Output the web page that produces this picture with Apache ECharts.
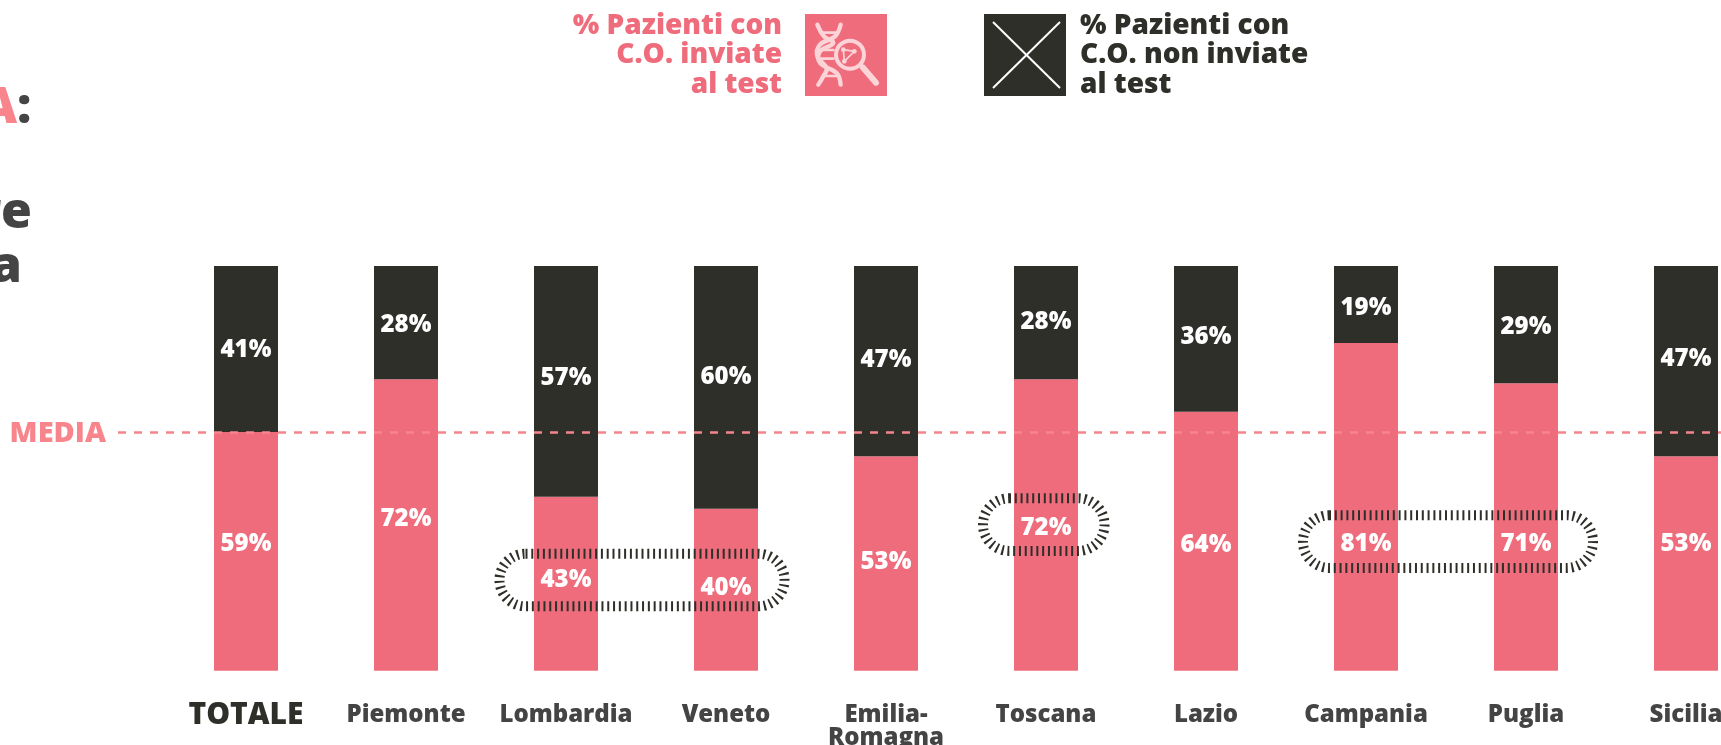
<!DOCTYPE html>
<html>
<head>
<meta charset="utf-8">
<title>Pazienti con C.O. inviate al test</title>
<script src="https://cdn.jsdelivr.net/npm/echarts@6/dist/echarts.min.js"></script>
<style>
  html, body { margin: 0; padding: 0; background: #fff; overflow: hidden; }
  #chart { width: 1721px; height: 745px; }
</style>
</head>
<body>
<div id="chart"></div>
<script>
const regions = ['TOTALE', 'Piemonte', 'Lombardia', 'Veneto', 'Emilia-\nRomagna', 'Toscana', 'Lazio', 'Campania', 'Puglia', 'Sicilia'];
const inviate = [59, 72, 43, 40, 53, 72, 64, 81, 71, 53];
const nonInviate = [41, 28, 57, 60, 47, 28, 36, 19, 29, 47];
const media = 59;

// where each percentage sits on the bar, in axis units (not centred in the original)
const inviateLabelAt = [31.8, 38, 22.9, 21, 27.3, 35.7, 31.5, 31.8, 31.8, 31.8];
const nonInviateLabelAt = [79.7, 85.9, 72.8, 73, 77.2, 86.5, 82.9, 90, 85.4, 77.5];

// dashed highlight pills: first/last region, height on the axis
const highlights = [
  { from: 'Lombardia', to: 'Veneto', at: 22.4, padL: 71.5, padR: 63.5 },
  { from: 'Toscana', to: 'Toscana', at: 36.1, padL: 68, padR: 63.5 },
  { from: 'Campania', to: 'Puglia', at: 31.9, padL: 68, padR: 72 },
];

const PINK = '#ef6c7c';
const SOFT_PINK = '#f8848c';
const DARK = '#2f2f2a';
const GREY = '#444444';
const ICON = '#fcd3d7';
const FONT = '"Open Sans", Lato, sans-serif';

const chart = echarts.init(document.getElementById('chart'));

function labelSeries(at, values) {
  return {
    type: 'scatter',
    symbolSize: 1,
    itemStyle: { color: 'transparent', opacity: 1 },
    silent: true,
    z: 6,
    data: at.map((y, i) => ({
      value: [regions[i], y],
      label: {
        show: true,
        position: 'inside',
        offset: [0, 2],
        formatter: values[i] + '%',
        color: '#fff',
        fontFamily: FONT,
        fontWeight: 800,
        fontSize: 24,
      },
    })),
  };
}

const inviateLabels = labelSeries(inviateLabelAt, inviate);
// the media line runs over the bars, so it hangs on a series drawn above them
inviateLabels.markLine = {
  silent: true,
  symbol: 'none',
  z: 7,
  lineStyle: { color: SOFT_PINK, type: [8, 8], width: 2.5, opacity: 1 },
  label: {
    show: true,
    position: 'start',
    formatter: 'MEDIA',
    distance: 12,
    offset: [0, 2],
    color: SOFT_PINK,
    fontFamily: FONT,
    fontWeight: 800,
    fontSize: 29,
  },
  data: [[{ x: 118, yAxis: media }, { x: 1721, yAxis: media }]],
};

chart.setOption({
  animation: false,
  backgroundColor: '#fff',
  grid: { left: 166, top: 266, width: 1600, height: 404.7, outerBoundsMode: 'none' },
  xAxis: {
    type: 'category',
    data: regions,
    axisLine: { show: false },
    axisTick: { show: false },
    axisLabel: {
      interval: 0,
      margin: 33,
      color: GREY,
      fontFamily: FONT,
      fontWeight: 800,
      fontSize: 24,
      lineHeight: 23,
      formatter: (v) => (v === 'TOTALE' ? '{tot|' + v + '}' : v),
      rich: {
        tot: { color: DARK, fontFamily: FONT, fontWeight: 800, fontSize: 30 },
      },
    },
  },
  yAxis: { type: 'value', min: 0, max: 100, show: false },
  series: [
    {
      name: '% Pazienti con C.O. inviate al test',
      type: 'bar',
      stack: 'tot',
      barWidth: 64,
      data: inviate,
      itemStyle: { color: PINK },
    },
    {
      name: '% Pazienti con C.O. non inviate al test',
      type: 'bar',
      stack: 'tot',
      barWidth: 64,
      data: nonInviate,
      itemStyle: { color: DARK },
    },
    inviateLabels,
    labelSeries(nonInviateLabelAt, nonInviate),
  ],
});

// legend and cropped headline are free-standing in the original, so graphic elements
function legendText(x, y, text, color, align) {
  return {
    type: 'text',
    x,
    y,
    style: { text, fill: color, align, verticalAlign: 'middle', font: '800 28px ' + FONT },
  };
}

function headline(x, y, text, color) {
  return {
    type: 'text',
    x,
    y,
    style: { text, fill: color, align: 'right', verticalAlign: 'middle', font: '800 50px ' + FONT },
  };
}

const iconStroke = (w) => ({ fill: 'none', stroke: ICON, lineWidth: w, lineCap: 'round' });

// DNA + magnifier, drawn in a 3x box and scaled down
const dnaIcon = {
  type: 'group',
  x: 800,
  y: 8,
  scaleX: 1 / 3,
  scaleY: 1 / 3,
  children: [
    { type: 'polyline', shape: { points: [[52, 50], [72, 85], [100, 105], [60, 130], [60, 165], [110, 195], [122, 230]], smooth: 0.4 }, style: iconStroke(13) },
    { type: 'polyline', shape: { points: [[122, 50], [105, 85], [60, 110], [52, 145], [80, 180], [70, 205], [55, 230]], smooth: 0.4 }, style: iconStroke(13) },
    { type: 'line', shape: { x1: 62, y1: 74, x2: 112, y2: 74 }, style: iconStroke(8) },
    { type: 'line', shape: { x1: 60, y1: 126, x2: 100, y2: 126 }, style: iconStroke(8) },
    { type: 'line', shape: { x1: 62, y1: 152, x2: 100, y2: 152 }, style: iconStroke(8) },
    { type: 'line', shape: { x1: 68, y1: 204, x2: 112, y2: 204 }, style: iconStroke(8) },
    { type: 'circle', shape: { cx: 150, cy: 140, r: 42 }, style: { fill: PINK, stroke: ICON, lineWidth: 12 } },
    { type: 'line', shape: { x1: 188, y1: 178, x2: 228, y2: 224 }, style: iconStroke(18) },
    { type: 'polygon', shape: { points: [[130, 125], [163, 130], [133, 160]] }, style: { fill: 'none', stroke: ICON, lineWidth: 5 } },
    { type: 'circle', shape: { cx: 130, cy: 125, r: 7 }, style: { fill: ICON } },
    { type: 'circle', shape: { cx: 163, cy: 130, r: 7 }, style: { fill: ICON } },
    { type: 'circle', shape: { cx: 133, cy: 160, r: 7 }, style: { fill: ICON } },
  ],
};

const pills = highlights.map((h) => {
  const [x0, yc] = chart.convertToPixel({ gridIndex: 0 }, [h.from, h.at]);
  const [x1] = chart.convertToPixel({ gridIndex: 0 }, [h.to, h.at]);
  const left = x0 - h.padL + 5;
  const right = x1 + h.padR - 5;
  return {
    type: 'rect',
    z: 10,
    shape: { x: left, y: yc - 26.3, width: right - left, height: 52.6, r: 26 },
    style: { fill: 'none', stroke: DARK, lineWidth: 10, lineDash: [2, 3.8] },
  };
});

chart.setOption({
  graphic: [
    headline(17, 109, 'A', SOFT_PINK),
    { type: 'text', x: 17, y: 109, style: { text: ':', fill: GREY, align: 'left', verticalAlign: 'middle', font: '800 50px ' + FONT } },
    headline(32, 214, 're', GREY),
    headline(22, 268, 'a', GREY),

    legendText(782, 26, '% Pazienti con', PINK, 'right'),
    legendText(782, 55, 'C.O. inviate', PINK, 'right'),
    legendText(782, 85, 'al test', PINK, 'right'),
    { type: 'rect', shape: { x: 805, y: 14, width: 82, height: 82 }, style: { fill: PINK } },
    dnaIcon,

    { type: 'rect', shape: { x: 984, y: 14, width: 82, height: 82 }, style: { fill: DARK } },
    { type: 'line', shape: { x1: 993, y1: 22, x2: 1060, y2: 88 }, style: { stroke: '#fff', lineWidth: 2 } },
    { type: 'line', shape: { x1: 1060, y1: 22, x2: 993, y2: 88 }, style: { stroke: '#fff', lineWidth: 2 } },
    legendText(1080, 26, '% Pazienti con', DARK, 'left'),
    legendText(1080, 55, 'C.O. non inviate', DARK, 'left'),
    legendText(1080, 85, 'al test', DARK, 'left'),
  ].concat(pills),
});
</script>
</body>
</html>
